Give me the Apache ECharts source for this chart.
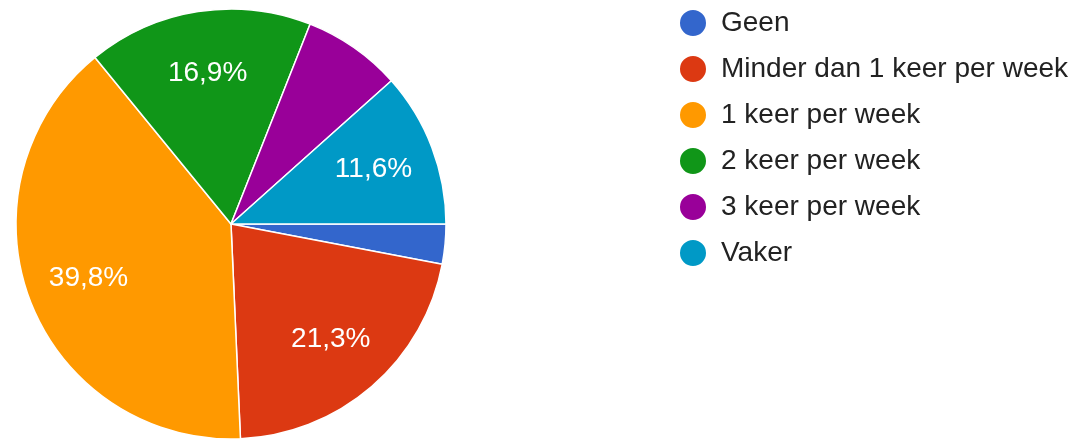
<!DOCTYPE html>
<html>
<head>
<meta charset="utf-8">
<style>
  html, body { margin: 0; padding: 0; background: #ffffff; }
  #pie_chart { width: 1092px; height: 442px; }
</style>
<script src="https://cdn.jsdelivr.net/npm/echarts@6/dist/echarts.min.js"></script>
</head>
<body>
<div id="pie_chart"></div>
<script>
///////////////////////////////////////////////////
// Used data
///////////////////////////////////////////////////

var categories = [
  'Geen',
  'Minder dan 1 keer per week',
  '1 keer per week',
  '2 keer per week',
  '3 keer per week',
  'Vaker',
];

// Share of answers, in percent
var shares = [3.0, 21.3, 39.8, 16.9, 7.4, 11.6];

var colors = ['#3366cc', '#dc3912', '#ff9900', '#109618', '#990099', '#0099c6'];

var pieData = categories.map(function (name, i) {
  return { name: name, value: shares[i] };
});

///////////////////////////////////////////////////
// Chart
///////////////////////////////////////////////////
var fontFamily = '"Liberation Sans", Arial, sans-serif';
var center = [231, 224];
var outer = 215;

var div = document.getElementById('pie_chart');
var myChart = echarts.init(div, null, { renderer: 'canvas' });

myChart.setOption({
  animation: false,
  color: colors,
  legend: {
    orient: 'vertical',
    left: 673,
    top: 3,
    icon: 'circle',
    itemWidth: 28,
    itemHeight: 28,
    itemGap: 16,
    selectedMode: false,
    data: categories,
    textStyle: {
      fontFamily: fontFamily,
      fontSize: 28,
      color: '#222222',
      padding: [0, 0, 0, 9],
    },
  },
  series: [
    {
      // the slices
      type: 'pie',
      center: center,
      radius: [0, outer],
      startAngle: 0,
      clockwise: true,
      silent: true,
      label: { show: false },
      labelLine: { show: false },
      itemStyle: { borderColor: '#ffffff', borderWidth: 1.5 },
      data: pieData,
    },
    {
      // a see-through ring, only to put the labels further out
      type: 'pie',
      center: center,
      radius: [84, outer],
      startAngle: 0,
      clockwise: true,
      silent: true,
      avoidLabelOverlap: false,
      percentPrecision: 1,
      itemStyle: { color: 'rgba(0,0,0,0)', borderWidth: 0 },
      labelLine: { show: false },
      label: {
        show: true,
        position: 'inside',
        fontFamily: fontFamily,
        fontSize: 28,
        color: '#ffffff',
        formatter: function (p) {
          // small slices get no label
          if (p.percent < 10) return '';
          return p.percent.toFixed(1).replace('.', ',') + '%';
        },
      },
      data: pieData,
    },
  ],
});
</script>
</body>
</html>
